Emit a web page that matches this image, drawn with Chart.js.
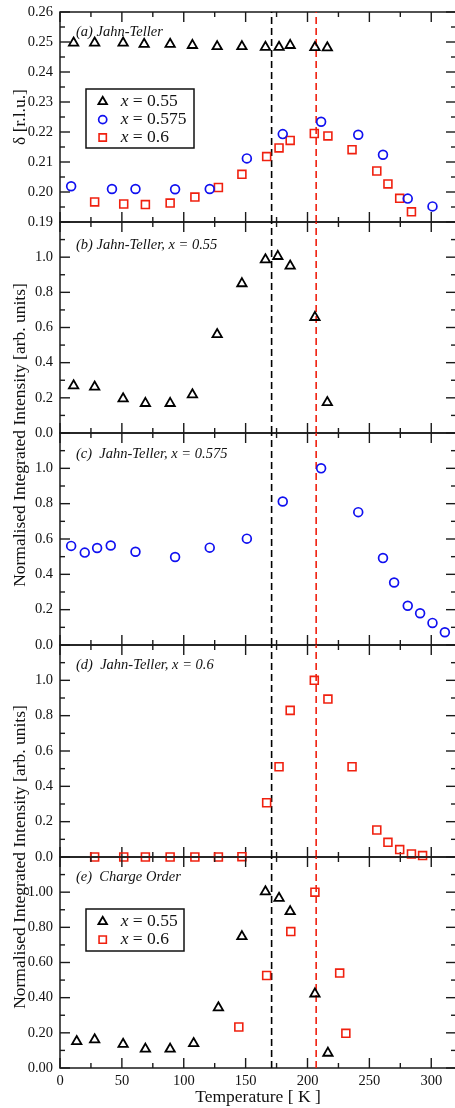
<!DOCTYPE html>
<html>
<head>
<meta charset="utf-8">
<script src="https://cdn.jsdelivr.net/npm/chart.js@4.4.1/dist/chart.umd.min.js"></script>
<style>
  html, body { margin: 0; padding: 0; background: #fff; overflow: hidden; }
  #wrap { position: relative; width: 455px; height: 1108px; overflow: hidden; }
  #wrap canvas { position: absolute; left: 0; }
  .ylab {
    position: absolute; white-space: nowrap; color: #111;
    font: 17.5px "Liberation Serif", "Times New Roman", serif;
    line-height: 20px;
    transform: translate(-50%, -50%) rotate(-90deg);
  }
</style>
</head>
<body>
<div id="wrap">
  <canvas id="pa"></canvas>
  <canvas id="pb"></canvas>
  <canvas id="pc"></canvas>
  <canvas id="pd"></canvas>
  <canvas id="pe"></canvas>
  <div class="ylab" style="left:19px; top:117px;">δ [r.l.u.]</div>
  <div class="ylab" style="left:19px; top:435px;">Normalised Integrated Intensity [arb. units]</div>
  <div class="ylab" style="left:19px; top:857px;">Normalised Integrated Intensity [arb. units]</div>
</div>
<script>
// ---- data ----
const tempMax = 320;
const xLabelTicks = [0, 50, 100, 150, 200, 250, 300];
const xMinorTicks = [25, 75, 125, 175, 225, 275];
const deltaTicks = [0.19, 0.20, 0.21, 0.22, 0.23, 0.24, 0.25, 0.26];
const deltaMinor = [0.195, 0.205, 0.215, 0.225, 0.235, 0.245, 0.255];
const intTicks = [0, 0.2, 0.4, 0.6, 0.8, 1.0];
const intMinor = [0.1, 0.3, 0.5, 0.7, 0.9, 1.1];

// transition temperatures (dashed lines)
const tcX055 = 171;
const tcX060 = 207;

// (a) modulation wavevector
const tempA055 = [11, 28, 51, 68, 89, 107, 127, 147, 166, 177, 186, 206, 216];
const deltaA055 = [0.2497, 0.2497, 0.2497, 0.2493, 0.2493, 0.2489, 0.2485, 0.2485, 0.2483, 0.2483, 0.2489, 0.2482, 0.2481];
const tempA0575 = [9, 42, 61, 93, 121, 151, 180, 211, 241, 261, 281, 301];
const deltaA0575 = [0.2019, 0.2010, 0.2010, 0.2009, 0.2010, 0.2112, 0.2193, 0.2234, 0.2191, 0.2124, 0.1978, 0.1952];
const tempA060 = [28, 51.5, 69, 89, 109, 128, 147, 167, 177, 186, 205.5, 216.5, 236, 256, 265, 274.5, 284];
const deltaA060 = [0.1967, 0.1960, 0.1958, 0.1963, 0.1983, 0.2015, 0.2059, 0.2118, 0.2147, 0.2172, 0.2195, 0.2187, 0.2141, 0.2070, 0.2027, 0.1979, 0.1934];

// (b) Jahn-Teller intensity, x = 0.55
const tempB = [11, 28, 51, 69, 89, 107, 127, 147, 166, 176, 186, 206, 216];
const intB = [0.269, 0.262, 0.195, 0.169, 0.169, 0.218, 0.561, 0.850, 0.986, 1.005, 0.950, 0.658, 0.174];

// (c) Jahn-Teller intensity, x = 0.575
const tempC = [9, 20, 30, 41, 61, 93, 121, 151, 180, 211, 241, 261, 270, 281, 291, 301, 311];
const intC = [0.561, 0.523, 0.549, 0.563, 0.528, 0.498, 0.551, 0.602, 0.812, 1.0, 0.752, 0.492, 0.354, 0.222, 0.180, 0.125, 0.072];

// (d) Jahn-Teller intensity, x = 0.6
const tempD = [28, 51.5, 69, 89, 109, 128, 147, 167, 177, 186, 205.5, 216.5, 236, 256, 265, 274.5, 284, 293];
const intD = [0, 0, 0, 0, 0, 0, 0.002, 0.307, 0.511, 0.830, 1.0, 0.894, 0.511, 0.153, 0.083, 0.042, 0.017, 0.008];

// (e) charge order intensity
const tempE055 = [13.5, 28, 51, 69, 89, 108, 128, 147, 166, 177, 186, 206, 216.5];
const intE055 = [0.151, 0.161, 0.136, 0.108, 0.108, 0.140, 0.343, 0.748, 1.003, 0.966, 0.890, 0.422, 0.085];
const tempE060 = [144.5, 167, 186.5, 206, 226, 231];
const intE060 = [0.233, 0.526, 0.776, 1.0, 0.540, 0.197];

// ---- styles ----
const SERIF = '"Liberation Serif", "Times New Roman", serif';
const INK = '#111';
const RED = '#f0200f';
const BLUE = '#1010f0';
const markers = {
  tri:  { pointStyle: 'triangle', pointRadius: 5.4, pointBorderColor: '#000', pointBorderWidth: 1.8 },
  circ: { pointStyle: 'circle',   pointRadius: 4.4, pointBorderColor: BLUE,  pointBorderWidth: 1.7 },
  sq:   { pointStyle: 'rect',     pointRadius: 5.6, pointBorderColor: RED,   pointBorderWidth: 1.6 }
};

function series(temps, vals, kind) {
  return Object.assign({
    type: 'scatter',
    data: temps.map((t, i) => ({ x: t, y: vals[i] })),
    pointBackgroundColor: 'rgba(0,0,0,0)',
    showLine: false,
    clip: false,
    order: 1
  }, markers[kind]);
}

function dashed(tc, yMin, yMax, color) {
  return {
    type: 'line',
    data: [{ x: tc, y: yMin }, { x: tc, y: yMax }],
    borderColor: color,
    borderWidth: 1.6,
    borderDash: [7, 4],
    pointRadius: 0,
    order: 10
  };
}

const PAD = 10;
const panels = [
  { id: 'pa', top: 12, bottom: 222, yMin: 0.19, yMax: 0.26, ticks: deltaTicks, minor: deltaMinor, dec: 2,
    title: '(a) Jahn-Teller', titleDy: 20,
    sets: [series(tempA055, deltaA055, 'tri'), series(tempA0575, deltaA0575, 'circ'), series(tempA060, deltaA060, 'sq')],
    legend: { dx: 26, dy: 77, w: 108, h: 59, items: [['tri', '0.55'], ['circ', '0.575'], ['sq', '0.6']] } },
  { id: 'pb', top: 222, bottom: 433, yMin: 0, yMax: 1.2, ticks: intTicks, minor: intMinor, dec: 1,
    title: '(b) Jahn-Teller, x = 0.55', titleDy: 23,
    sets: [series(tempB, intB, 'tri')] },
  { id: 'pc', top: 433, bottom: 645, yMin: 0, yMax: 1.2, ticks: intTicks, minor: intMinor, dec: 1,
    title: '(c)  Jahn-Teller, x = 0.575', titleDy: 21,
    sets: [series(tempC, intC, 'circ')] },
  { id: 'pd', top: 645, bottom: 857, yMin: 0, yMax: 1.2, ticks: intTicks, minor: intMinor, dec: 1,
    title: '(d)  Jahn-Teller, x = 0.6', titleDy: 20,
    sets: [series(tempD, intD, 'sq')] },
  { id: 'pe', top: 857, bottom: 1068, yMin: 0, yMax: 1.2, ticks: intTicks, minor: intMinor, dec: 2,
    title: '(e)  Charge Order', titleDy: 20, last: true,
    sets: [series(tempE055, intE055, 'tri'), series(tempE060, intE060, 'sq')],
    legend: { dx: 26, dy: 52, w: 98, h: 42, items: [['tri', '0.55'], ['sq', '0.6']] } }
];

// frame, inward ticks, panel title and legend
function makeDecor(p) {
  return {
    id: 'decor',
    beforeDatasetsDraw(chart) {
      const { ctx, chartArea: a, scales: { x, y } } = chart;
      ctx.save();
      ctx.strokeStyle = '#1a1a1a';
      ctx.lineWidth = 1.5;
      ctx.strokeRect(a.left, a.top, a.right - a.left, a.bottom - a.top);
      ctx.lineWidth = 1.4;
      const seg = (x1, y1, x2, y2) => { ctx.beginPath(); ctx.moveTo(x1, y1); ctx.lineTo(x2, y2); ctx.stroke(); };
      const xt = (vals, len) => vals.forEach(v => {
        const px = x.getPixelForValue(v);
        seg(px, a.top, px, a.top + len);
        seg(px, a.bottom, px, a.bottom - len);
      });
      const yt = (vals, len) => vals.forEach(v => {
        const py = y.getPixelForValue(v);
        seg(a.left, py, a.left + len, py);
        seg(a.right, py, a.right - len, py);
      });
      xt(xLabelTicks, 10); xt(xMinorTicks, 5);
      yt(p.ticks, 10); yt(p.minor, 5);
      ctx.restore();
    },
    afterDatasetsDraw(chart) {
      const { ctx, chartArea: a } = chart;
      ctx.save();
      ctx.fillStyle = INK;
      ctx.textBaseline = 'middle';
      ctx.font = 'italic 14.5px ' + SERIF;
      ctx.fillText(p.title, a.left + 16, a.top + p.titleDy);
      if (p.legend) {
        const L = p.legend;
        const bx = a.left + L.dx, by = a.top + L.dy;
        ctx.strokeStyle = '#111';
        ctx.lineWidth = 1.5;
        ctx.strokeRect(bx, by, L.w, L.h);
        L.items.forEach((it, i) => {
          const m = markers[it[0]];
          const cy = by + 12.7 + i * 17.9;
          ctx.strokeStyle = m.pointBorderColor;
          ctx.fillStyle = 'rgba(0,0,0,0)';
          ctx.lineWidth = m.pointBorderWidth;
          Chart.helpers.drawPoint(ctx, { pointStyle: m.pointStyle, radius: m.pointRadius * 0.92, borderWidth: m.pointBorderWidth, rotation: 0 }, bx + 16.7, cy);
          ctx.fillStyle = INK;
          ctx.font = 'italic 17.5px ' + SERIF;
          ctx.fillText('x', bx + 34.7, cy);
          const wx = ctx.measureText('x').width;
          ctx.font = '17.5px ' + SERIF;
          ctx.fillText(' = ' + it[1], bx + 34.7 + wx, cy);
        });
      }
      ctx.restore();
    }
  };
}

panels.forEach(p => {
  const cv = document.getElementById(p.id);
  const top = p.top - PAD;
  const height = p.last ? 1108 - top : (p.bottom - p.top) + 2 * PAD;
  cv.width = 456; cv.height = height;
  cv.style.top = top + 'px';
  cv.style.width = '456px'; cv.style.height = height + 'px';

  const datasets = p.sets.concat([
    dashed(tcX055, p.yMin, p.yMax, '#000'),
    dashed(tcX060, p.yMin, p.yMax, RED)
  ]);

  new Chart(cv, {
    type: 'scatter',
    data: { datasets },
    options: {
      responsive: false,
      animation: false,
      events: [],
      devicePixelRatio: 1,
      layout: { autoPadding: false, padding: { top: PAD, bottom: p.last ? 0 : PAD, left: 0, right: 0 } },
      plugins: { legend: { display: false }, tooltip: { enabled: false } },
      scales: {
        x: {
          type: 'linear', min: 0, max: tempMax,
          display: !!p.last,
          afterBuildTicks: s => { s.ticks = xLabelTicks.map(v => ({ value: v })); },
          afterFit: s => {
            s.height = p.last ? 40 : 0;
            s.paddingLeft = 0; s.paddingRight = 0; s.paddingTop = 0; s.paddingBottom = 0;
          },
          grid: { display: false, drawTicks: false },
          border: { display: false },
          ticks: { color: INK, padding: 4, maxRotation: 0, font: { family: SERIF, size: 14.5 } },
          title: { display: true, text: 'Temperature [ K ]', color: INK,
                   font: { family: SERIF, size: 17.5, lineHeight: 1.2 }, padding: { top: 0, bottom: 0.5 } }
        },
        y: {
          type: 'linear', min: p.yMin, max: p.yMax,
          afterBuildTicks: s => { s.ticks = p.ticks.map(v => ({ value: v })); },
          afterFit: s => {
            s.width = 60;
            s.paddingTop = 0; s.paddingBottom = 0; s.paddingLeft = 0; s.paddingRight = 0;
          },
          grid: { display: false, drawTicks: false },
          border: { display: false },
          ticks: { color: INK, padding: 7, font: { family: SERIF, size: 14.5 },
                   callback: v => Number(v).toFixed(p.dec) }
        }
      }
    },
    plugins: [makeDecor(p)]
  });
});
</script>
</body>
</html>
